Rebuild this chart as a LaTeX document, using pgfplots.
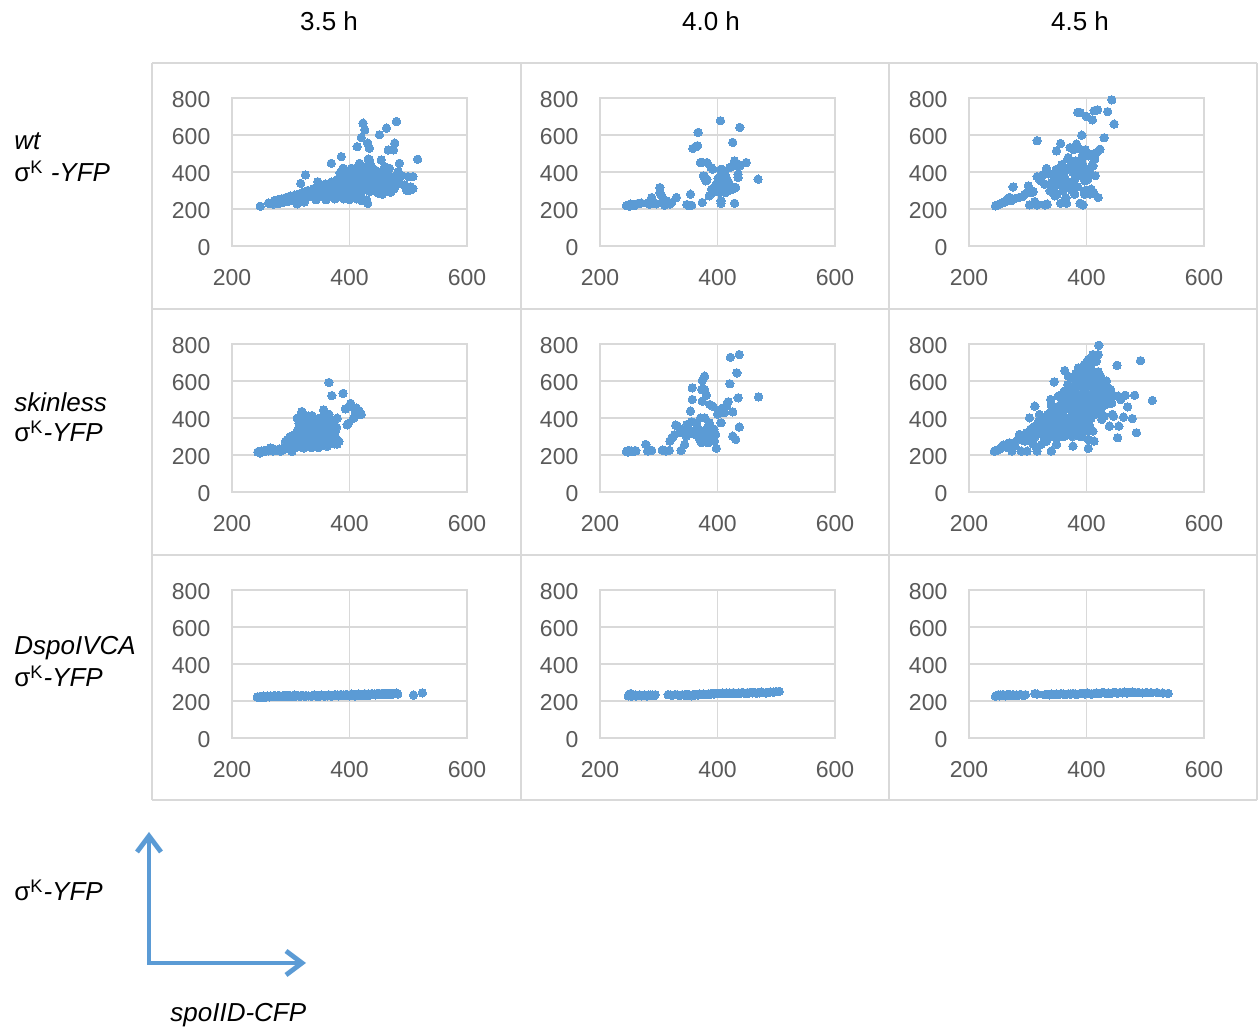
\documentclass[border=0pt]{standalone}
\usepackage{fontspec}
\setmainfont{Liberation Sans}
\usepackage{pgfplots}
\pgfplotsset{compat=1.18}
\usetikzlibrary{arrows.meta}

\definecolor{dotblue}{HTML}{5B9BD5}
\definecolor{gridgray}{HTML}{D9D9D9}
\definecolor{tickgray}{HTML}{595959}
\definecolor{framegray}{HTML}{D9D9D9}

\newcommand\ticksize{\fontsize{11.5}{13}\selectfont}
\newcommand\labelsize{\fontsize{13}{15.6}\selectfont}

\pgfplotsset{
  panel/.style={
    at={#1}, anchor=south west, scale only axis,
    width=117.5pt, height=74pt,
    xmin=200, xmax=600, ymin=0, ymax=800,
    xtick={200,400,600}, ytick={0,200,400,600,800},
    grid=major, major grid style={gridgray, line width=0.6pt},
    axis line style={gridgray, line width=0.6pt},
    tick style={draw=none},
    ticklabel style={font=\ticksize, text=tickgray},
    /pgf/number format/assume math mode=true,
    xticklabel style={yshift=-8.3pt},
    yticklabel style={xshift=-7.3pt, yshift=-1pt},
    clip=false,
  },
  dots/.style={only marks, mark=*, mark size=2.1pt, color=dotblue,
    mark options={draw=dotblue, fill=dotblue, line width=0pt}},
}

\begin{document}
\begin{tikzpicture}
\path[use as bounding box] (0,0) rectangle (630pt,516pt);

% panel frames
\begin{scope}[framegray, line width=0.8pt]
  \draw (76pt,116pt) -- (76pt,484.5pt);
  \draw (260.5pt,116pt) -- (260.5pt,484.5pt);
  \draw (444.5pt,116pt) -- (444.5pt,484.5pt);
  \draw (628.5pt,116pt) -- (628.5pt,484.5pt);
  \draw (76pt,116pt) -- (628.5pt,116pt);
  \draw (76pt,238.5pt) -- (628.5pt,238.5pt);
  \draw (76pt,361.5pt) -- (628.5pt,361.5pt);
  \draw (76pt,484.5pt) -- (628.5pt,484.5pt);
\end{scope}

% ---------- wt, 3.5 h ----------
\begin{axis}[panel={(116pt,393pt)}]
\addplot[dots] coordinates {
(248,215)(262,232)(270,226)(272,245)(278,250)(280,230)(285,255)(288,236)(292,262)(295,240)
(299,270)(301,245)(305,262)(307,275)(309,250)(311,228)(315,282)(317,245)(321,290)(323,238)
(325,272)(329,300)(331,266)(335,285)(339,310)(341,275)(343,250)(345,295)(349,320)(351,282)
(355,305)(357,272)(359,335)(361,290)(365,318)(367,280)(369,345)(371,300)(375,330)(377,292)
(379,360)(381,275)(383,340)(385,305)(387,372)(389,285)(391,350)(393,310)(395,380)(397,295)
(399,330)(401,360)(403,275)(405,345)(407,310)(409,395)(411,290)(413,355)(415,325)(417,380)
(419,270)(421,340)(423,300)(425,410)(427,360)(429,250)(431,320)(433,385)(435,295)(437,345)
(439,420)(441,305)(443,365)(445,330)(447,290)(449,400)(451,340)(453,310)(455,370)(458,300)
(461,355)(464,330)(467,385)(470,290)(473,345)(476,310)(479,365)(482,395)(488,380)(494,330)
(499,300)(504,320)(508,310)
(317,338)(325,384)(346,347)(369,447)(386,483)(389,420)(403,420)(417,447)(413,537)(420,586)
(423,664)(426,628)(431,556)(434,528)(434,465)(451,601)(454,465)(460,429)(463,637)(466,519)
(475,519)(477,556)(480,673)(483,402)(485,447)(486,338)(497,302)(500,375)(503,302)(508,375)
(516,469)(469,302)(451,284)(431,230)
(384,395)(392,410)(398,260)(406,380)(410,420)(414,265)(422,395)(428,430)(432,470)(436,440)
(440,375)(444,410)(448,350)(456,280)(462,395)(468,420)(472,350)(390,255)(400,250)(412,255)
(420,245)(375,255)(360,250)
};
\end{axis}

% ---------- wt, 4.0 h ----------
\begin{axis}[panel={(300pt,393pt)}]
\addplot[dots] coordinates {
(245,218)(248,222)(250,215)(252,226)(254,220)(256,224)(258,218)(260,222)(263,228)(266,230)
(270,232)(282,235)(284,226)(288,262)(290,240)(293,231)(296,228)(302,316)(302,289)(305,271)
(308,232)(310,220)(313,244)(315,230)(319,226)(322,235)(330,262)(348,224)(350,220)(354,280)
(356,220)(374,235)(358,527)(362,535)(366,542)(367,614)(371,451)(374,452)(382,451)(389,424)
(392,415)(376,379)(378,375)(380,352)(382,360)(386,271)(390,307)(393,290)(396,298)(399,316)
(402,330)(404,289)(404,343)(405,677)(406,415)(406,388)(407,320)(408,352)(410,325)(411,300)
(413,380)(414,289)(415,370)(417,307)(419,345)(406,244)(406,231)(421,424)(424,430)(426,560)
(426,307)(429,460)(429,231)(431,316)(432,433)(435,442)(435,388)(435,370)(438,641)(438,433)
(449,451)(469,361)(398,335)(401,365)(410,410)(420,300)(425,320)
};
\end{axis}

% ---------- wt, 4.5 h ----------
\begin{axis}[panel={(484.5pt,393pt)}]
\addplot[dots] coordinates {
(245,217)(247,220)(249,222)(252,226)(255,231)(258,234)(261,238)(265,253)(269,262)(272,245)
(275,319)(278,256)(285,262)(291,267)(295,280)(301,325)(303,289)(303,222)(306,300)(309,292)
(312,240)(316,222)(316,569)(316,375)(320,360)(323,352)(326,385)(329,222)(329,334)(332,419)
(333,226)(336,390)(338,298)(340,343)(341,325)(343,325)(345,300)(346,271)(348,410)(349,514)
(349,415)(350,280)(352,379)(354,350)(356,554)(356,231)(358,440)(360,325)(362,400)(363,370)
(366,231)(368,470)(369,478)(370,345)(372,532)(372,316)(373,433)(375,420)(377,397)(378,520)
(380,361)(380,280)(382,460)(383,551)(385,722)(386,400)(389,722)(389,523)(389,231)(390,380)
(392,599)(392,478)(393,445)(394,433)(394,379)(394,222)(396,298)(397,352)(397,280)(398,520)
(400,700)(400,410)(402,360)(403,370)(403,487)(405,390)(406,415)(406,280)(408,496)(408,307)
(410,682)(410,440)(411,433)(413,731)(414,469)(415,380)(417,505)(419,736)(420,262)(423,523)
(430,585)(436,726)(443,790)(447,659)(360,300)(365,260)(375,300)(385,320)(400,300)(412,290)
(355,330)(345,380)(385,440)(395,500)
};
\end{axis}

% ---------- skinless, 3.5 h ----------
\begin{axis}[panel={(116pt,270pt)}]
\addplot[dots] coordinates {
(244,216)(246,220)(248,211)(250,222)(252,218)(255,224)(257,220)(260,226)(262,222)(265,238)
(268,228)(270,222)(272,230)(274,224)(277,226)(280,232)(282,220)(285,228)(288,229)(290,240)
(291,274)(293,250)(294,283)(296,262)(298,235)(299,300)(300,255)(302,220)(303,280)(305,256)
(306,310)(308,270)(309,240)(311,399)(311,330)(312,290)(313,260)(314,372)(315,327)(315,350)
(316,292)(317,245)(318,410)(319,435)(320,300)(321,265)(322,238)(323,345)(325,280)(326,320)
(327,250)(328,309)(329,370)(330,290)(331,345)(332,399)(333,260)(334,315)(335,240)(336,413)
(337,372)(337,300)(338,280)(339,274)(340,330)(341,250)(342,309)(343,355)(344,285)(345,256)
(346,320)(347,240)(348,363)(349,300)(350,275)(351,327)(352,350)(352,250)(353,292)(354,380)
(355,310)(356,444)(356,363)(357,265)(358,330)(359,381)(360,290)(361,345)(362,247)(363,310)
(364,370)(365,420)(365,592)(366,280)(367,330)(368,309)(369,350)(370,521)(370,274)(371,300)
(372,385)(373,381)(374,260)(375,320)(376,327)(377,290)(378,350)(379,399)(379,259)(380,270)
(382,274)(389,533)(393,449)(396,363)(398,370)(402,479)(404,460)(407,399)(410,430)(412,453)
(413,417)(416,440)(420,420)(340,365)(345,395)(330,410)(325,395)(360,400)(350,400)
};
\end{axis}

% ---------- skinless, 4.0 h ----------
\begin{axis}[panel={(300pt,270pt)}]
\addplot[dots] coordinates {
(245,218)(247,222)(248,216)(250,224)(252,220)(254,221)(256,218)(259,221)(261,223)(278,257)
(281,222)(282,221)(285,228)(288,225)(306,226)(308,225)(312,222)(318,225)(319,275)(322,290)
(324,297)(327,310)(329,362)(331,358)(336,320)(338,225)(340,330)(344,257)(347,302)(348,365)
(350,340)(354,437)(356,380)(357,563)(357,500)(360,330)(362,310)(364,374)(366,350)(367,320)
(369,300)(370,284)(371,400)(373,266)(373,554)(374,491)(374,602)(376,330)(378,626)(378,554)
(378,401)(380,280)(381,523)(381,311)(383,350)(384,266)(386,374)(387,473)(389,300)(392,464)
(392,329)(394,340)(395,275)(397,310)(398,236)(400,420)(402,440)(404,428)(406,374)(408,450)
(410,455)(412,430)(415,464)(418,487)(421,585)(422,728)(426,433)(426,302)(431,284)(433,644)
(435,509)(437,743)(437,351)(470,514)
};
\end{axis}

% ---------- skinless, 4.5 h ----------
\begin{axis}[panel={(484.5pt,270pt)}]
\addplot[dots] coordinates {
(243,220)(245,222)(247,225)(249,228)(251,230)(253,235)(255,239)(258,254)(260,245)(262,250)
(264,257)(266,240)(269,266)(271,255)(273,221)(276,260)(278,248)(282,280)(286,311)(289,221)
(292,290)(295,275)(298,320)(299,221)(301,300)(303,401)(305,340)(306,293)(309,260)(312,464)
(312,356)(313,300)(315,239)(316,221)(318,380)(320,419)(321,330)(323,257)(325,400)(326,374)
(328,290)(329,311)(330,350)(332,275)(334,420)(336,360)(338,329)(339,500)(340,437)(340,221)
(342,390)(343,300)(345,595)(346,383)(347,340)(349,257)(350,460)(352,518)(353,320)(354,420)
(355,380)(357,473)(357,365)(358,430)(359,340)(360,419)(361,500)(362,300)(363,656)(364,390)
(366,536)(366,311)(367,450)(368,360)(369,626)(369,455)(370,400)(371,340)(372,383)(373,480)
(374,509)(375,420)(376,300)(377,248)(378,370)(379,460)(380,545)(380,347)(381,500)(382,420)
(383,581)(383,455)(384,390)(385,330)(386,671)(386,491)(387,302)(388,440)(389,401)(390,617)
(390,360)(391,527)(392,480)(393,410)(394,554)(395,340)(396,689)(396,600)(397,455)(398,500)
(399,380)(400,644)(400,560)(401,430)(402,520)(403,716)(403,374)(403,284)(403,236)(404,470)
(405,600)(406,581)(406,491)(407,662)(408,400)(409,437)(410,527)(410,640)(411,743)(411,329)
(412,560)(413,275)(413,480)(414,599)(415,420)(416,520)(417,707)(418,554)(419,450)(420,743)
(421,473)(421,793)(422,600)(423,419)(424,626)(425,520)(426,392)(427,560)(428,581)(430,410)
(431,482)(433,473)(434,600)(436,563)(438,530)(439,356)(441,554)(443,480)(444,419)(446,410)
(448,520)(452,685)(453,293)(454,518)(455,356)(458,500)(463,405)(466,523)(470,460)(478,397)
(482,523)(485,320)(492,710)(512,495)(360,400)(365,350)(370,330)(375,380)(380,440)(385,470)
(390,520)(395,420)(400,480)(405,360)(410,470)(415,560)(420,500)(425,450)(430,540)(435,500)
(355,470)(350,410)(345,430)(340,470)(335,380)(330,400)(345,350)(365,470)(375,560)(380,600)
(388,575)(392,650)(398,630)(405,660)(415,620)(420,650)(408,690)(400,700)(395,660)(382,640)
(372,520)(362,545)(368,580)(376,510)(384,350)(392,300)(398,330)(360,320)(350,330)(355,300)
};
\end{axis}

% ---------- DspoIVCA, 3.5 h ----------
\begin{axis}[panel={(116pt,147pt)}]
\addplot[dots] coordinates {
(243,222)(246,220)(248,225)(250,222)(252,219)(254,226)(256,223)(258,221)(260,227)(262,224)
(264,222)(266,228)(268,225)(270,223)(272,229)(274,226)(276,224)(278,227)(280,230)(282,225)
(284,223)(286,228)(288,226)(290,231)(292,224)(294,228)(296,226)(298,230)(300,227)(302,225)
(304,229)(306,232)(308,226)(310,228)(312,230)(314,227)(316,225)(318,229)(320,231)(322,227)
(324,225)(326,229)(330,228)(335,226)(340,233)(342,228)(345,225)(348,230)(350,227)(352,232)
(355,229)(358,226)(360,231)(362,228)(365,233)(368,229)(370,226)(372,231)(375,234)(378,229)
(380,232)(382,228)(385,235)(388,230)(390,233)(392,229)(395,236)(398,231)(400,228)(402,233)
(404,237)(406,230)(408,234)(410,227)(412,235)(414,231)(416,238)(418,232)(420,229)(422,236)
(424,233)(426,239)(428,231)(430,235)(432,238)(434,232)(436,236)(438,240)(440,234)(442,237)
(444,233)(446,239)(448,235)(450,241)(452,236)(454,238)(456,242)(458,235)(460,239)(462,237)
(464,241)(466,236)(468,240)(470,238)(472,242)(474,237)(476,240)(478,239)(480,243)(482,238)
(509,232)(524,244)
};
\end{axis}

% ---------- DspoIVCA, 4.0 h ----------
\begin{axis}[panel={(300pt,147pt)}]
\addplot[dots] coordinates {
(248,228)(250,234)(252,240)(254,226)(256,231)(258,229)(260,233)(262,227)(264,231)(266,229)
(268,233)(270,228)(272,231)(274,229)(276,233)(278,230)(280,228)(282,232)(284,229)(286,233)
(288,230)(290,232)(292,229)(294,234)
(316,234)(320,233)(324,231)(328,235)(332,233)(336,230)(340,234)(344,232)(348,236)(350,230)
(352,233)(355,228)(358,234)(361,232)(364,235)(367,233)(370,237)(373,235)(376,238)(379,236)
(382,234)(385,239)(388,237)(391,240)(394,238)(397,241)(400,239)(403,242)(406,240)(409,243)
(412,241)(415,244)(418,240)(421,243)(424,241)(427,245)(430,242)(433,240)(436,244)(439,242)
(442,246)(445,243)(448,241)(451,245)(454,243)(457,247)(460,244)(463,246)(466,242)(469,246)
(472,244)(475,248)(478,245)(482,243)(486,247)(490,249)(495,248)(500,251)(505,252)
};
\end{axis}

% ---------- DspoIVCA, 4.5 h ----------
\begin{axis}[panel={(484.5pt,147pt)}]
\addplot[dots] coordinates {
(245,226)(248,230)(250,234)(252,228)(254,232)(256,229)(258,235)(260,231)(262,228)(264,233)
(266,230)(268,236)(270,232)(272,229)(275,234)(278,231)(281,233)(284,230)(287,235)(290,232)
(293,230)(296,234)(312,240)(316,237)
(329,234)(333,236)(337,233)(341,237)(345,235)(349,238)(353,236)(357,240)(361,237)(365,235)
(369,239)(373,237)(377,241)(381,238)(385,236)(389,240)(393,242)(397,238)(401,243)(405,240)
(409,237)(413,241)(417,244)(421,240)(425,243)(429,246)(433,241)(437,244)(441,240)(445,245)
(449,247)(453,242)(457,246)(461,244)(465,248)(469,243)(473,246)(478,249)(483,245)(488,247)
(495,244)(502,246)(510,245)(520,246)(530,243)(539,241)
};
\end{axis}

% column titles
\node[anchor=base, inner sep=0pt, font=\labelsize] at (164.5pt,500.5pt) {3.5 h};
\node[anchor=base, inner sep=0pt, font=\labelsize] at (355.5pt,500.5pt) {4.0 h};
\node[anchor=base, inner sep=0pt, font=\labelsize] at (540pt,500.5pt) {4.5 h};

% row labels
\node[anchor=base west, inner sep=0pt, font=\labelsize] at (7pt,441pt) {\textit{wt}};
\node[anchor=base west, inner sep=0pt, font=\labelsize] at (7pt,425pt) {σ\textsuperscript{K} \textit{-YFP}};
\node[anchor=base west, inner sep=0pt, font=\labelsize] at (7pt,310pt) {\textit{skinless}};
\node[anchor=base west, inner sep=0pt, font=\labelsize] at (7pt,295pt) {σ\textsuperscript{K}\textit{-YFP}};
\node[anchor=base west, inner sep=0pt, font=\labelsize] at (7pt,188.5pt) {\textit{DspoIVCA}};
\node[anchor=base west, inner sep=0pt, font=\labelsize] at (7pt,172.5pt) {σ\textsuperscript{K}\textit{-YFP}};

% axis key
\node[anchor=base west, inner sep=0pt, font=\labelsize] at (7pt,65.5pt) {σ\textsuperscript{K}\textit{-YFP}};
\node[anchor=base west, inner sep=0pt, font=\labelsize] at (85pt,5pt) {\textit{spoIID-CFP}};
\draw[dotblue, line width=2.4pt, line join=miter, line cap=round,
  {Straight Barb[length=8pt,width=12pt]}-{Straight Barb[length=8pt,width=12pt]}]
  (74.5pt,100pt) -- (74.5pt,34.5pt) -- (153pt,34.5pt);
\end{tikzpicture}
\end{document}
